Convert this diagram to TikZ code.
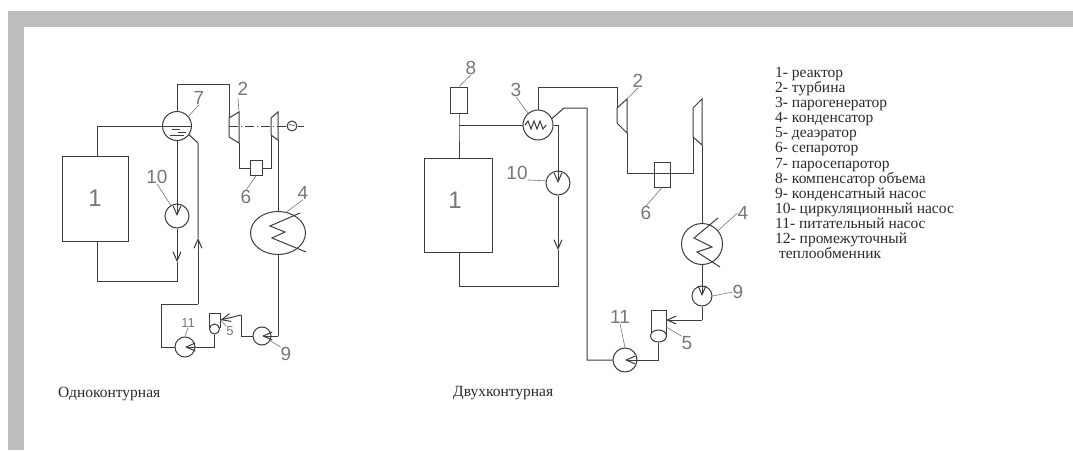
\documentclass[tikz,border=0pt]{standalone}
\usepackage{fontspec}
\setmainfont{Liberation Serif}
\newfontfamily\digitfont{Liberation Sans}
\usetikzlibrary{arrows.meta, positioning, shapes.geometric}
\definecolor{framegray}{HTML}{BEBEBE}
\definecolor{linegray}{HTML}{3C3C3C}
\definecolor{numgray}{HTML}{777777}
\definecolor{textgray}{HTML}{2A2A2A}

\begin{document}
\begin{tikzpicture}[
  x=1pt, y=-1pt,
  line/.style={draw=linegray, line width=1pt},
  flow/.style={line, -{Straight Barb[length=9pt, width=8pt]}},
  thinline/.style={draw=numgray, line width=0.6pt},
  vessel/.style={rectangle, draw=linegray, line width=1pt, inner sep=0pt},
  pump/.style={circle, draw=linegray, line width=1pt, inner sep=0pt},
  oval/.style={ellipse, draw=linegray, line width=1pt, inner sep=0pt},
  num/.style={font=\digitfont\fontsize{19}{19}\selectfont, text=numgray, inner sep=0pt},
  smallnum/.style={font=\digitfont\fontsize{13}{13}\selectfont, text=numgray, inner sep=0pt},
  bignum/.style={font=\digitfont\fontsize{24}{24}\selectfont, text=numgray, inner sep=0pt},
  caption/.style={font=\fontsize{15.5}{15}\selectfont, text=textgray, inner sep=0pt, anchor=west},
]
\useasboundingbox (0,0) rectangle (1073,450);
\fill[framegray] (8,11) rectangle (1073,450);
\fill[white] (24,27) rectangle (1073,450);

% single circuit
\node[vessel, minimum width=66pt, minimum height=85pt] (R1) at (95,199) {};
\node[bignum] (N1a) at (95,198) {1};
\node[pump, minimum size=29pt] (D7) at (177,126) {};
\node[pump, minimum size=24pt] (P10a) at (177,216) {};
\node[pump, minimum size=20pt] (P11a) at (185,347) {};
\node[pump, minimum size=18pt] (P9a) at (262,336) {};
\node[oval, minimum width=55pt, minimum height=43pt] (C4a) at (278,233) {};
\node[vessel, minimum width=12pt, minimum height=15pt] (S6a) at (256,168) {};
\node[vessel, minimum width=11pt, minimum height=14pt] (T5a) at (214.5,320) {};
\node[pump, minimum size=10pt, fill=white] (B5a) at (214.5,329) {};
\node[pump, minimum size=10pt] (G) at (292,126) {\fontsize{8}{8}\selectfont$\sim$};

\coordinate (T2a) at (229,118);
\coordinate (T2b) at (239,112);
\coordinate (T2c) at (239,143);
\coordinate (T2d) at (229,137);
\coordinate (L2a) at (271,118);
\coordinate (L2b) at (278,112);
\coordinate (L2c) at (278,140);
\coordinate (L2d) at (271,135);
\coordinate (Top1) at (97,157);
\coordinate (Bot1) at (97,242);
\coordinate (Low1) at (177,281);
\coordinate (A10a) at (177,262);
\coordinate (Steam1) at (229,84);
\coordinate (Shaft1) at (229,126);
\coordinate (Out9) at (278,336);
\coordinate (Up9) at (241,315);
\coordinate (Ret1) at (161,304);
\coordinate (Ret2) at (198,304);
\coordinate (A0a) at (198,238);
\coordinate (Ret3) at (198,143);

\draw[line] (Top1) |- (D7.west);
\draw[line] (D7.north) |- (Steam1) -- (T2a);
\draw[line] (T2a) -- (T2b) -- (T2c) -- (T2d) -- cycle;
\draw[line] (L2a) -- (L2b) -- (L2c) -- (L2d) -- cycle;
\draw[line, dash pattern=on 9pt off 3pt on 1pt off 3pt] (Shaft1) -- (G.west);
\draw[line] (G.east) -- ++(6,0);
\draw[line] (T2c) |- (S6a.west);
\draw[line] (S6a.east) -| (L2d);
\draw[line] (L2c) -- (C4a.north);
\draw[line] (C4a.south) -- (Out9);
\draw[flow] (Out9) -- (P9a.center);
\draw[line] (P9a.west) -| (Up9);
\draw[flow] (Up9) -- (T5a.east);
\draw[line] (B5a.south) |- (P11a.east);
\draw[flow] (P11a.east) -- (P11a.center);
\draw[line] (P11a.west) -| (Ret1) -- (Ret2);
\draw[flow] (Ret2) -- (A0a);
\draw[line] (A0a) -- (Ret3) -- (D7.-36);
\draw[flow] (D7.south) -- (P10a.center);
\draw[flow] (P10a.south) -- (A10a);
\draw[line] (A10a) -- (Low1) -| (Bot1);

\draw[line] (D7.west) -- (D7.east);
\draw[line] (172,129) -- (180,129) (178,132) -- (186,132) (170,135) -- (184,135);
\draw[line] (300,213) -- (270,226) -- (285,232) -- (272,238) -- (306,252);

\node[num] (N2a) at (243,89) {2};
\node[num] (N7a) at (199,98) {7};
\node[num] (N10a) at (157,177) {10};
\node[num] (N6a) at (246,197) {6};
\node[num] (N4a) at (303,193) {4};
\node[smallnum] (N11a) at (188,323) {11};
\node[smallnum] (N5a) at (230,331) {5};
\node[num] (N9a) at (286,354) {9};
\draw[thinline] (N2a) ++(-5,9) -- (T2b);
\draw[thinline] (N7a.south) -- (D7.40);
\draw[thinline] (N10a.south) -- (P10a.120);
\draw[thinline] (N6a.north) -- (S6a.south);
\draw[thinline] (N4a.south) -- (285,213);
\draw[thinline] (N11a.south) -- (P11a.north);
\draw[thinline] (N5a.north west) -- (T5a.east);
\draw[thinline] (N9a.north west) -- (P9a.-30);

% double circuit
\node[vessel, minimum width=68pt, minimum height=94pt] (R2) at (458,205) {};
\node[bignum] (N1b) at (455,200) {1};
\node[vessel, minimum width=17pt, minimum height=26pt] (K8) at (459,100) {};
\node[pump, minimum size=30pt] (SG3) at (538,125) {};
\node[pump, minimum size=24pt] (P10b) at (558,183) {};
\node[pump, minimum size=24pt] (P11b) at (625,360) {};
\node[pump, minimum size=20pt] (P9b) at (702,296) {};
\node[pump, minimum size=41pt] (C4b) at (702,244) {};
\node[vessel, minimum width=16pt, minimum height=25pt] (S6b) at (662,174.5) {};
\node[vessel, minimum width=15pt, minimum height=25pt] (T5b) at (658.5,322.5) {};
\node[oval, minimum width=16pt, minimum height=12pt, fill=white] (B5b) at (658.5,336) {};

\coordinate (U2a) at (617,108);
\coordinate (U2b) at (627,99);
\coordinate (U2c) at (627,133);
\coordinate (U2d) at (617,123);
\coordinate (V2a) at (693,108);
\coordinate (V2b) at (702,99);
\coordinate (V2c) at (702,145);
\coordinate (V2d) at (693,137);
\coordinate (J8) at (459,125);
\coordinate (Top2) at (459,158);
\coordinate (Turn3) at (558,125);
\coordinate (A10b) at (558,250);
\coordinate (Low2) at (558,286);
\coordinate (Low3) at (459,286);
\coordinate (Bot2) at (459,252);
\coordinate (Steam2) at (617,87);
\coordinate (Pass6) at (627,173);
\coordinate (Turn9) at (702,320);
\coordinate (Tip5) at (666,320);
\coordinate (Ret4) at (587,360);
\coordinate (Ret5) at (587,108);
\coordinate (Ret6) at (564,108);

\draw[line] (K8.south) -- (J8) -- (Top2);
\draw[line] (J8) -- (SG3.west);
\draw[line] (SG3.east) -- (Turn3);
\draw[flow] (Turn3) -- (P10b.center);
\draw[flow] (P10b.south) -- (A10b);
\draw[line] (A10b) -- (Low2) -- (Low3) -- (Bot2);
\draw[line] (SG3.north) |- (Steam2) -- (U2a);
\draw[line] (U2a) -- (U2b) -- (U2c) -- (U2d) -- cycle;
\draw[line] (V2a) -- (V2b) -- (V2c) -- (V2d) -- cycle;
\draw[line] (U2c) -- (Pass6) -| (V2d);
\draw[line] (V2c) -- (C4b.north);
\draw[line] (C4b.south) -- (P9b.north);
\draw[flow] (P9b.north) -- (P9b.center);
\draw[line] (P9b.south) -- (Turn9);
\draw[flow] (Turn9) -- (Tip5);
\draw[line] (B5b.south) |- (P11b.east);
\draw[flow] (P11b.east) -- (P11b.center);
\draw[line] (P11b.west) -- (Ret4) -- (Ret5) -- (Ret6) -- (SG3.25);
\draw[line] (525,125) -- ++(3,-4) -- ++(3,8) -- ++(3,-8) -- ++(3,8) -- ++(3,-8) -- ++(3,8) -- ++(3,-4);
\draw[line] (718,218) -- (694,238) -- (712,247) -- (697,252) -- (720,267);

\node[num] (N8b) at (471,68) {8};
\node[num] (N3b) at (516,90) {3};
\node[num] (N2b) at (638,81) {2};
\node[num] (N10b) at (517,173) {10};
\node[num] (N6b) at (646,213) {6};
\node[num] (N4b) at (743,213) {4};
\node[num] (N9b) at (738,292) {9};
\node[num] (N11b) at (620,317) {11};
\node[num] (N5b) at (687,343) {5};
\draw[thinline] (N8b.south) -- (K8.north);
\draw[thinline] (N3b.south) -- (SG3.130);
\draw[thinline] (N2b.south) -- (U2b);
\draw[thinline] (N10b.south east) -- (P10b.170);
\draw[thinline] (N6b.north) -- (S6b.south);
\draw[thinline] (N4b.west) -- (C4b.40);
\draw[thinline] (N9b.west) -- (P9b.east);
\draw[thinline] (N11b.south) -- (P11b.north);
\draw[thinline] (N5b.north west) -- (T5b.-30);

% legend
\node[font=\fontsize{15.5}{15.1}\selectfont, text=textgray, inner sep=0pt, anchor=north west, align=left] (legend) at (775,67) {1- реактор\\2- турбина\\3- парогенератор\\4- конденсатор\\5- деаэратор\\6- сепаротор\\7- паросепаротор\\8- компенсатор объема\\9- конденсатный насос\\10- циркуляционный насос\\11- питательный насос\\12- промежуточный\\ \ теплообменник};
\node[caption] (cap1) at (58,394) {Одноконтурная};
\node[caption] (cap2) at (453,393) {Двухконтурная};
\end{tikzpicture}
\end{document}
